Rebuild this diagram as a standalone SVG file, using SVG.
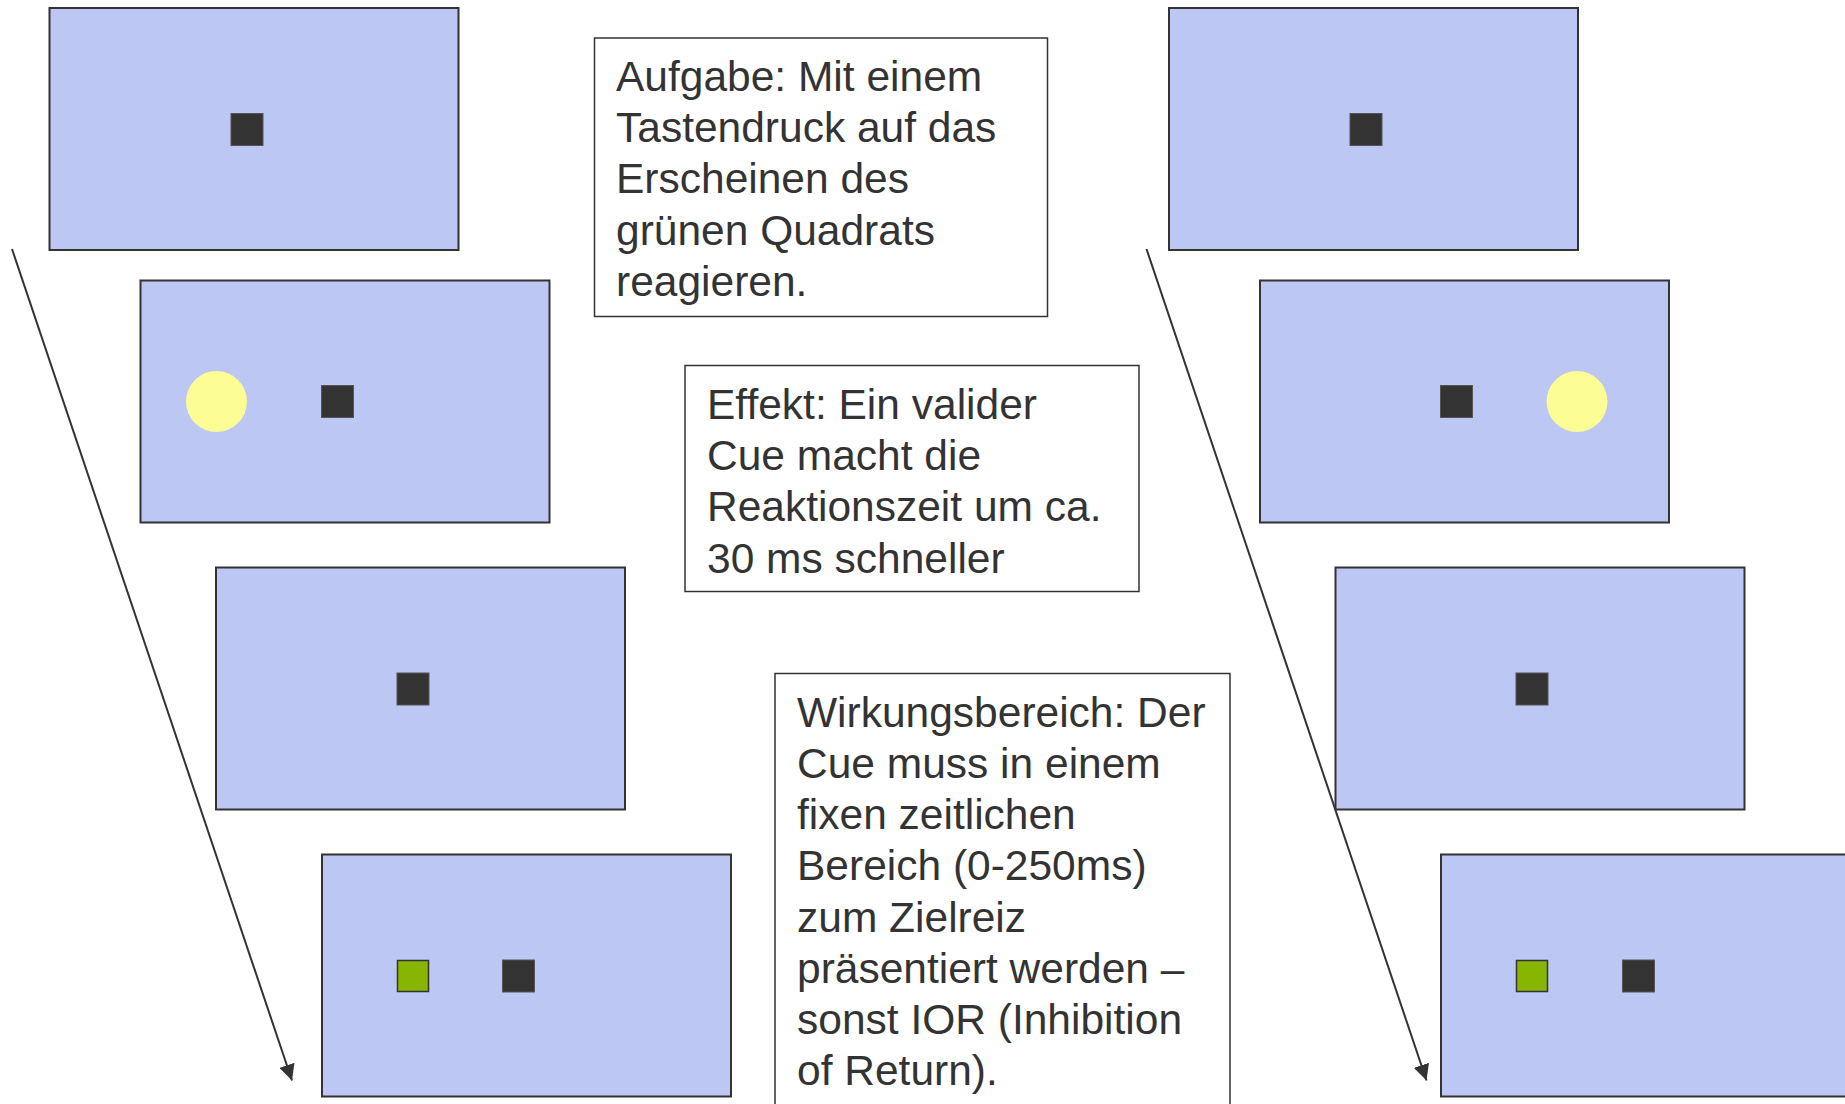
<svg xmlns="http://www.w3.org/2000/svg" width="1845" height="1104" viewBox="0 0 1845 1104">
<defs>
<style>
.scr{fill:#BCC7F4;stroke:#333;stroke-width:2}
.dot{fill:#333;stroke:#555;stroke-width:1}
.grn{fill:#88B500;stroke:#333;stroke-width:1.5}
.cue{fill:#FDFD96}
.tb{fill:#fff;stroke:#333;stroke-width:1.5}
.t{font-family:"Liberation Sans",Arial,sans-serif;font-size:42.5px;fill:#333}
.con{stroke:#333;stroke-width:2;fill:none}
</style>
<marker id="ah2" viewBox="0 0 16 16" refX="16" refY="8" markerWidth="16" markerHeight="16" markerUnits="userSpaceOnUse" orient="auto">
<path d="M0,0 L16,8 L0,16 z" fill="#333"/>
</marker>
</defs>
<rect width="1845" height="1104" fill="#fff"/>

<g id="left-screen-1">
<rect class="scr" x="49.5" y="8" width="409" height="242"/>
<rect class="dot" x="231" y="113.5" width="32" height="32"/>
</g>
<g id="left-screen-2">
<rect class="scr" x="140.5" y="280.5" width="409" height="242"/>
<circle class="cue" cx="216.5" cy="401.5" r="30.5"/>
<rect class="dot" x="321.5" y="385.5" width="32" height="32"/>
</g>
<g id="left-screen-3">
<rect class="scr" x="216" y="567.5" width="409" height="242"/>
<rect class="dot" x="397" y="673" width="32" height="32"/>
</g>
<g id="left-screen-4">
<rect class="scr" x="322" y="854.5" width="409" height="242"/>
<rect class="grn" x="397.5" y="960.5" width="31" height="31"/>
<rect class="dot" x="502.5" y="960" width="32" height="32"/>
</g>

<g id="right-screen-1">
<rect class="scr" x="1169" y="8" width="409" height="242"/>
<rect class="dot" x="1350" y="113.5" width="32" height="32"/>
</g>
<g id="right-screen-2">
<rect class="scr" x="1260" y="280.5" width="409" height="242"/>
<rect class="dot" x="1440.5" y="385.5" width="32" height="32"/>
<circle class="cue" cx="1577" cy="401.5" r="30.5"/>
</g>
<g id="right-screen-3">
<rect class="scr" x="1335.5" y="567.5" width="409" height="242"/>
<rect class="dot" x="1516" y="673" width="32" height="32"/>
</g>
<g id="right-screen-4">
<rect class="scr" x="1441" y="854.5" width="409" height="242"/>
<rect class="grn" x="1516.5" y="960.5" width="31" height="31"/>
<rect class="dot" x="1622.5" y="960" width="32" height="32"/>
</g>

<g id="text-aufgabe">
<rect class="tb" x="594.5" y="38" width="453" height="278.5"/>
<text class="t" x="616" y="91">Aufgabe: Mit einem</text>
<text class="t" x="616" y="142.2">Tastendruck auf das</text>
<text class="t" x="616" y="193.4">Erscheinen des</text>
<text class="t" x="616" y="244.6">grünen Quadrats</text>
<text class="t" x="616" y="295.8">reagieren.</text>
</g>
<g id="text-effekt">
<rect class="tb" x="685" y="365.5" width="454" height="226"/>
<text class="t" x="707" y="419">Effekt: Ein valider</text>
<text class="t" x="707" y="470.2">Cue macht die</text>
<text class="t" x="707" y="521.4">Reaktionszeit um ca.</text>
<text class="t" x="707" y="572.6">30 ms schneller</text>
</g>
<g id="text-wirkung">
<rect class="tb" x="775" y="673.5" width="455" height="440"/>
<text class="t" x="797" y="726.7">Wirkungsbereich: Der</text>
<text class="t" x="797" y="777.9">Cue muss in einem</text>
<text class="t" x="797" y="829.1">fixen zeitlichen</text>
<text class="t" x="797" y="880.3">Bereich (0-250ms)</text>
<text class="t" x="797" y="931.5">zum Zielreiz</text>
<text class="t" x="797" y="982.7">präsentiert werden –</text>
<text class="t" x="797" y="1033.9">sonst IOR (Inhibition</text>
<text class="t" x="797" y="1085.1">of Return).</text>
</g>

<g id="connectors">
<line class="con" x1="12" y1="249" x2="292" y2="1080.5" marker-end="url(#ah2)"/>
<line class="con" x1="1146.5" y1="249" x2="1426.5" y2="1080.5" marker-end="url(#ah2)"/>
</g>
</svg>
